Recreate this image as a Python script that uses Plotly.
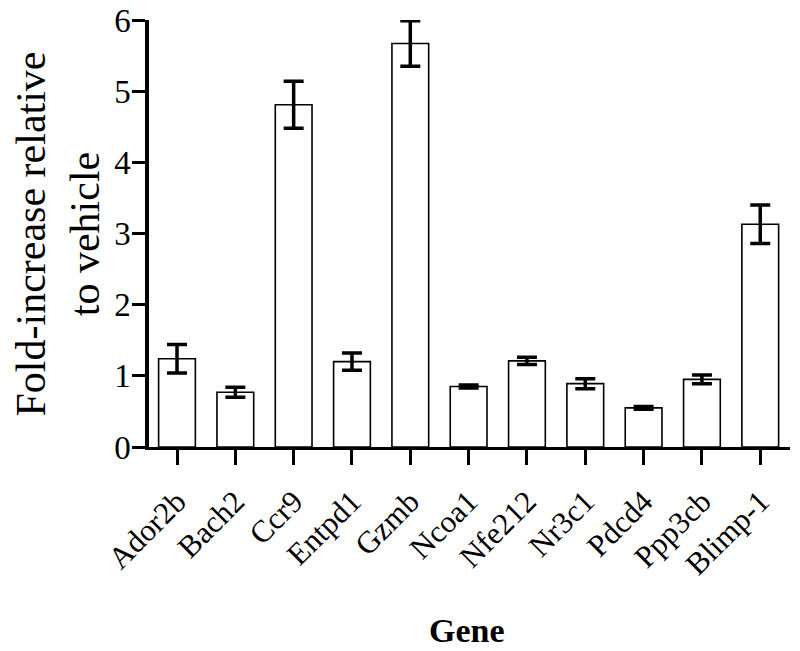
import plotly.graph_objects as go

genes = ["Ador2b", "Bach2", "Ccr9", "Entpd1", "Gzmb", "Ncoa1", "Nfe212",
         "Nr3c1", "Pdcd4", "Ppp3cb", "Blimp-1"]
fold = [1.24, 0.77, 4.81, 1.20, 5.67, 0.85, 1.21, 0.89, 0.55, 0.95, 3.13]
err = [0.20, 0.07, 0.33, 0.12, 0.32, 0.02, 0.05, 0.07, 0.02, 0.06, 0.27]
y_ticks = [0, 1, 2, 3, 4, 5, 6]

FONT = "Liberation Serif"

fig = go.Figure()
fig.add_trace(go.Bar(
    x=list(range(len(genes))), y=fold,
    width=0.63,
    marker=dict(color="white", line=dict(color="black", width=1.6)),
    error_y=dict(type="data", array=err, visible=True, color="black",
                 thickness=3.5, width=10),
))

fig.update_layout(
    width=800, height=651,
    margin=dict(l=149, r=10, t=20, b=204),
    paper_bgcolor="white", plot_bgcolor="white",
    showlegend=False,
    font=dict(family=FONT, color="black"),
    xaxis=dict(
        range=[-0.48, 10.51], automargin=False,
        tickmode="array", tickvals=list(range(len(genes))), ticktext=genes,
        tickangle=-45, ticklabelstandoff=6, ticklabeloverflow="allow",
        tickfont=dict(family=FONT, size=31, color="black"),
        showline=True, linecolor="black", linewidth=3,
        ticks="outside", ticklen=15, tickwidth=3, tickcolor="black",
        showgrid=False, zeroline=False,
    ),
    yaxis=dict(
        range=[0, 6], automargin=False,
        tickmode="array", tickvals=y_ticks, ticktext=[str(v) for v in y_ticks],
        ticklabelstandoff=-5, ticklabeloverflow="allow",
        tickfont=dict(family=FONT, size=33, color="black"),
        showline=True, linecolor="black", linewidth=3.5,
        ticks="outside", ticklen=13, tickwidth=3, tickcolor="black",
        showgrid=False, zeroline=False,
    ),
    annotations=[
        dict(text="Fold-increase relative<br>to vehicle", xref="paper", yref="paper",
             x=(58 - 149) / 641, y=0.5, xanchor="center", yanchor="middle",
             textangle=-90, showarrow=False,
             font=dict(family=FONT, size=42, color="black")),
        dict(text="<b>Gene</b>", xref="paper", yref="paper",
             x=(467 - 149) / 641, y=(447 - 630) / 427, xanchor="center", yanchor="middle",
             showarrow=False, font=dict(family=FONT, size=34, color="black")),
    ],
)

fig.write_html(
    "out.html",
    config={"displayModeBar": False},
    post_script="document.body.style.margin='0';document.body.style.overflow='hidden';",
)
